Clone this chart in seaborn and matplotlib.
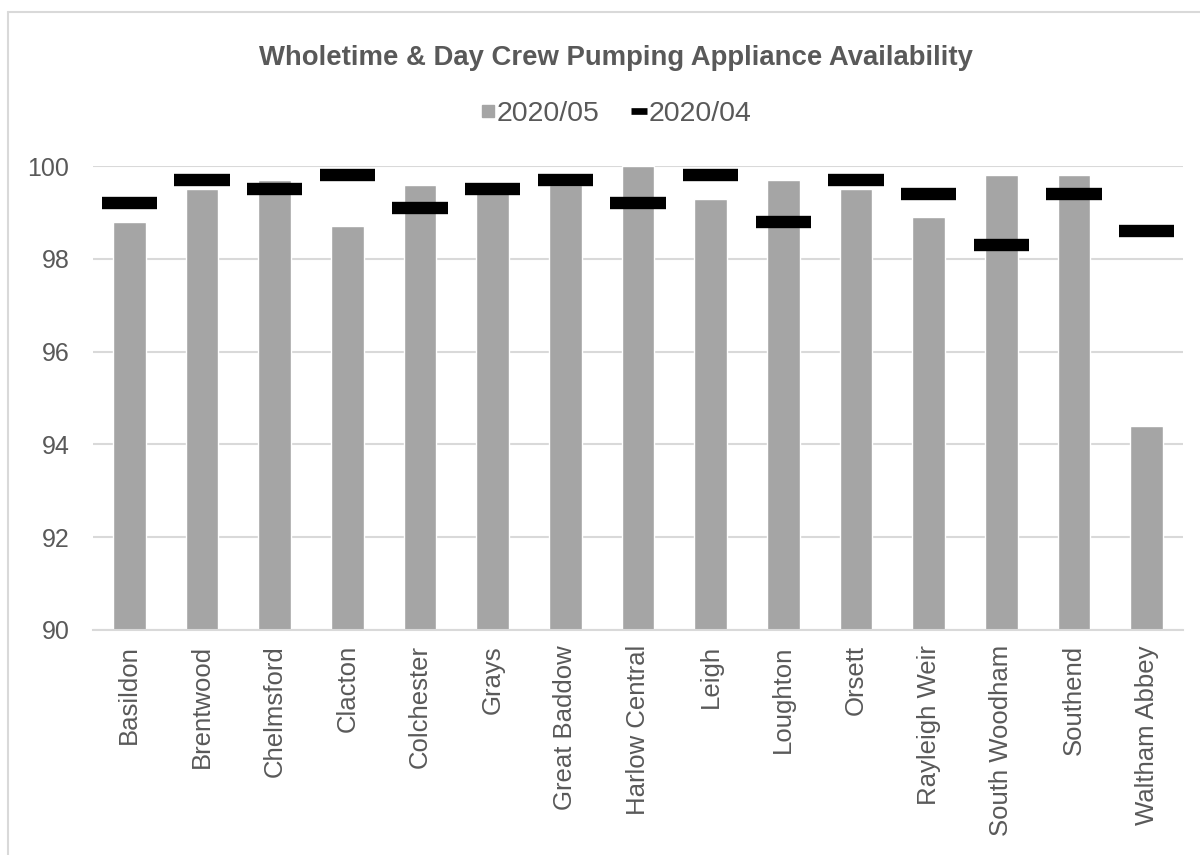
import matplotlib
matplotlib.use("Agg")
import matplotlib.pyplot as plt
from matplotlib.lines import Line2D
import numpy as np
import pandas as pd
import seaborn as sns

stations = ["Basildon", "Brentwood", "Chelmsford", "Clacton", "Colchester", "Grays",
            "Great Baddow", "Harlow Central", "Leigh", "Loughton", "Orsett",
            "Rayleigh Weir", "South Woodham", "Southend", "Waltham Abbey"]
avail_2020_05 = [98.8, 99.5, 99.7, 98.7, 99.6, 99.5, 99.6, 100.0, 99.3, 99.7, 99.5,
                 98.9, 99.8, 99.8, 94.4]
avail_2020_04 = [99.2, 99.7, 99.5, 99.8, 99.1, 99.5, 99.7, 99.2, 99.8, 98.8, 99.7,
                 99.4, 98.3, 99.4, 98.6]
y_ticks = [90, 92, 94, 96, 98, 100]

title = "Wholetime & Day Crew Pumping Appliance Availability"
label_may = "2020/05"
label_apr = "2020/04"

BAR = "#A5A5A5"
TEXT = "#595959"
GRID = "#D9D9D9"

sns.set_style("white")
plt.rcParams["font.family"] = ["Liberation Sans", "DejaVu Sans"]

df = pd.DataFrame({"station": stations, "may": avail_2020_05, "apr": avail_2020_04})

fig = plt.figure(figsize=(12, 8.55), dpi=100)
ax = fig.add_axes([0.0775, 0.2632, 0.9083, 0.5426])

sns.barplot(data=df, x="station", y="may", color=BAR, width=0.45,
            saturation=1, ax=ax, zorder=2)

# April values drawn as thick horizontal dashes over each category
xpos = np.arange(len(stations))
ax.hlines(df["apr"], xpos - 0.38, xpos + 0.38, colors="black",
          linewidth=8.9, zorder=3, capstyle="butt")

ax.set_ylim(90, 100)
ax.set_xlim(-0.5, len(stations) - 0.5)
ax.set_yticks(y_ticks)
ax.set_yticklabels([str(v) for v in y_ticks])
ax.yaxis.grid(True, color=GRID, linewidth=1.5, zorder=0)
ax.set_axisbelow(True)
for side in ["top", "right", "left"]:
    ax.spines[side].set_visible(False)
ax.spines["bottom"].set_color(GRID)
ax.spines["bottom"].set_linewidth(1.5)

ax.set_xlabel("")
ax.set_ylabel("")
ax.tick_params(axis="x", length=0, pad=11, labelsize=18.5, labelcolor=TEXT,
               labelrotation=90)
ax.tick_params(axis="y", length=0, pad=17, labelsize=18, labelcolor=TEXT)

fig.text(0.513, 0.932, title, ha="center", va="center", fontsize=19.8,
         fontweight="bold", color=TEXT)

handles = [
    Line2D([0], [0], linestyle="none", marker="s", markersize=8.5,
           markerfacecolor=BAR, markeredgecolor=BAR),
    Line2D([0], [0], color="black", linewidth=4.8, solid_capstyle="butt"),
]
fig.legend(handles, [label_may, label_apr], loc="center", ncol=2,
           bbox_to_anchor=(0.513, 0.867), frameon=False, fontsize=20.5,
           labelcolor=TEXT, handlelength=0.55, handletextpad=0.05,
           columnspacing=1.1)

# light chart-area border along the left and top edges
fig.add_artist(Line2D([0.0067, 0.0067], [0.0, 0.9865], transform=fig.transFigure,
                      color=GRID, linewidth=1.5))
fig.add_artist(Line2D([0.0067, 1.0], [0.9865, 0.9865], transform=fig.transFigure,
                      color=GRID, linewidth=1.5))

fig.savefig("out.png", dpi=100, facecolor="white")
